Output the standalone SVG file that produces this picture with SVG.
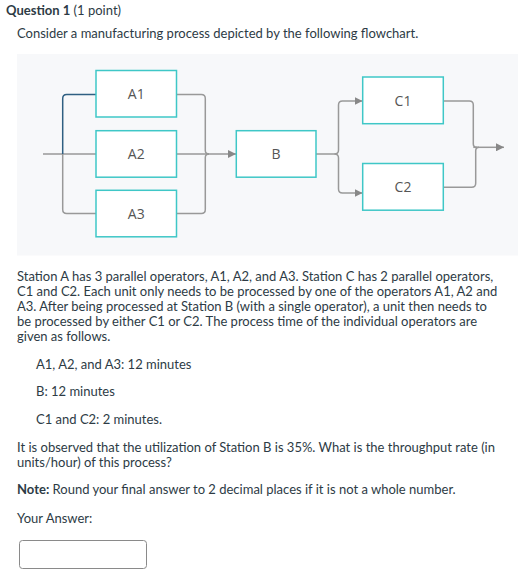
<svg xmlns="http://www.w3.org/2000/svg" width="518" height="574" viewBox="0 0 518 574">
<defs>
<style>
.t{font-family:Lato,"Liberation Sans",sans-serif;font-size:13px;fill:#2d3b45}
.b{font-weight:bold}
.box{fill:#fff;stroke:#3fc7c7;stroke-width:1.5}
.lbl{font-family:"Open Sans","Liberation Sans",sans-serif;font-size:14px;fill:#555;text-anchor:middle}
.ln{fill:none;stroke:#999;stroke-width:1.5}
.blue{fill:none;stroke:#2f5f82;stroke-width:1.5}
</style>
<marker id="ah" viewBox="0 0 8 8" refX="8" refY="4" markerWidth="8" markerHeight="8" markerUnits="userSpaceOnUse" orient="auto">
<path d="M0,0 L8,4 L0,8 Z" fill="#888"/>
</marker>
</defs>
<rect width="518" height="574" fill="#fff"/>
<text class="t" x="6" y="15"><tspan class="b">Question 1</tspan> (1 point)</text>
<text class="t" x="17" y="38">Consider a manufacturing process depicted by the following flowchart.</text>
<rect x="17" y="54" width="501" height="201.5" fill="#f7f8fa"/>
<g id="connectors">
<path class="ln" d="M43,154 H96"/>
<path class="ln" d="M62.7,154 V209.5 Q62.7,213.5 66.7,213.5 H96"/>
<path class="blue" d="M62.7,154 V98.5 Q62.7,94.5 66.7,94.5 H96"/>
<path class="ln" d="M176.5,94.5 H201.3 Q205.3,94.5 205.3,98.5 V150.5 Q205.3,154 209,154"/>
<path class="ln" d="M176.5,213.5 H201.3 Q205.3,213.5 205.3,209.5 V157.5 Q205.3,154 209,154"/>
<path class="ln" d="M176.5,154 H236" marker-end="url(#ah)"/>
<path class="ln" d="M316,154 H334.5 Q338.5,154 338.5,150 V105 Q338.5,101 342.5,101 H362.5" marker-end="url(#ah)"/>
<path class="ln" d="M334.5,154 Q338.5,154 338.5,158 V189 Q338.5,193 342.5,193 H362.5" marker-end="url(#ah)"/>
<path class="ln" d="M443.5,101 H469.3 Q473.3,101 473.3,105 V144 Q473.3,147.3 477,147.3"/>
<path class="ln" d="M443.5,187.3 H471.7 Q475.7,187.3 475.7,183.3 V151 Q475.7,147.3 479,147.3"/>
<path class="ln" d="M473.3,147.3 H504" marker-end="url(#ah)"/>
</g>
<g id="A1"><rect class="box" x="96" y="70.5" width="80.5" height="46.5"/><text class="lbl" x="136.3" y="99">A1</text></g>
<g id="A2"><rect class="box" x="96" y="130.7" width="80.5" height="46.5"/><text class="lbl" x="136.3" y="159">A2</text></g>
<g id="A3"><rect class="box" x="96" y="190.3" width="80.5" height="46.5"/><text class="lbl" x="136.3" y="219">A3</text></g>
<g id="B"><rect class="box" x="236.3" y="130.7" width="79.7" height="46.5"/><text class="lbl" x="276" y="159">B</text></g>
<g id="C1"><rect class="box" x="362.7" y="77" width="80.6" height="46.7"/><text class="lbl" x="403" y="105.5">C1</text></g>
<g id="C2"><rect class="box" x="362.7" y="163.5" width="80.6" height="46.7"/><text class="lbl" x="403" y="192">C2</text></g>
<text class="t" x="17" y="281">Station A has 3 parallel operators, A1, A2, and A3. Station C has 2 parallel operators,</text>
<text class="t" x="17" y="296">C1 and C2. Each unit only needs to be processed by one of the operators A1, A2 and</text>
<text class="t" x="17" y="311">A3. After being processed at Station B (with a single operator), a unit then needs to</text>
<text class="t" x="17" y="326">be processed by either C1 or C2. The process time of the individual operators are</text>
<text class="t" x="17" y="341">given as follows.</text>
<text class="t" x="36" y="368.5">A1, A2, and A3: 12 minutes</text>
<text class="t" x="36" y="396">B: 12 minutes</text>
<text class="t" x="36" y="423.5">C1 and C2: 2 minutes.</text>
<text class="t" x="17" y="451.5">It is observed that the utilization of Station B is 35%. What is the throughput rate (in</text>
<text class="t" x="17" y="466.5">units/hour) of this process?</text>
<text class="t" x="17" y="493.5"><tspan class="b">Note:</tspan> Round your final answer to 2 decimal places if it is not a whole number.</text>
<text class="t" x="17" y="522.5">Your Answer:</text>
<rect x="19.5" y="540.5" width="127" height="28" rx="3" fill="#fff" stroke="#8a8a8a" stroke-width="1"/>
</svg>
